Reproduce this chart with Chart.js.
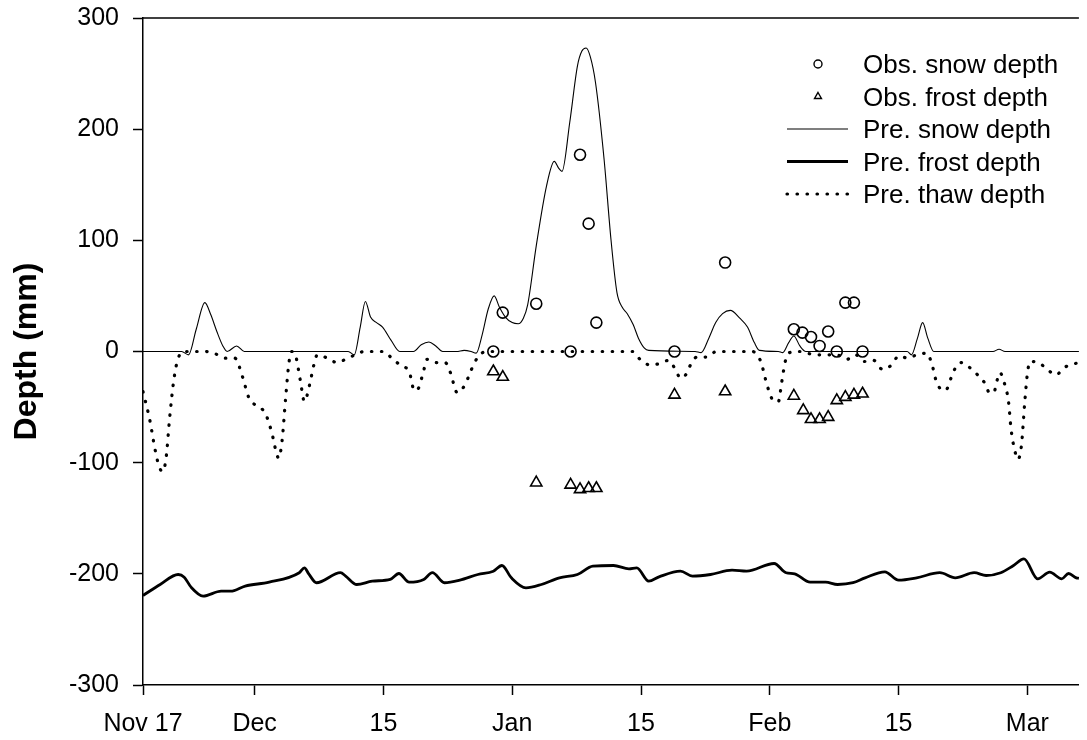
<!DOCTYPE html>
<html>
<head>
<meta charset="utf-8">
<script src="https://cdn.jsdelivr.net/npm/chart.js@4/dist/chart.umd.min.js"></script>
<style>
  html, body { margin: 0; padding: 0; background: #fff; }
</style>
</head>
<body>
<canvas id="chart" width="1087" height="740"></canvas>
<script>
// x axis is in days counted from Nov 17
const tickDays = [0, 13, 28, 43, 58, 73, 88, 103];
const tickLabels = ["Nov 17", "Dec", "15", "Jan", "15", "Feb", "15", "Mar"];

// observed snow depth (circles)
const obsSnowDays = [40.8, 41.9, 45.8, 49.8, 50.9, 51.9, 52.8, 61.9, 67.8, 75.8, 76.8, 77.8, 78.8, 79.8, 80.8, 81.8, 82.8, 83.8];
const obsSnowValues = [0, 35, 43, 0, 177, 115, 26, 0, 80, 20, 17, 13, 5, 18, 0, 44, 44, 0];

// observed frost depth (triangles)
const obsFrostDays = [40.8, 41.9, 45.8, 49.8, 50.9, 51.9, 52.8, 61.9, 67.8, 75.8, 76.9, 77.8, 78.8, 79.8, 80.8, 81.8, 82.8, 83.8];
const obsFrostValues = [-18, -23, -118, -120, -124, -123, -123, -39, -36, -40, -53, -61, -61, -59, -44, -41, -39, -38];

// predicted snow depth
const preSnowDays = [0, 4.5, 5.3, 6.2, 7.2, 7.9, 8.6, 9.3, 9.8, 10.9, 11.8, 23.9, 24.6, 25.3, 25.9, 26.5, 27.2, 27.9, 28.9, 29.9,
  31.5, 32.4, 33.3, 34.1, 34.9, 36.5, 37.4, 38.2, 38.8, 39.5, 40.2, 40.9, 41.5, 42.2, 43.0, 43.7, 44.3, 44.8, 45.8, 47.0,
  47.9, 48.4, 48.8, 49.7, 50.6, 51.1, 51.6, 52.1, 52.7, 53.7, 54.5, 55.2, 55.8, 56.4, 57.1, 57.7, 58.4, 58.9, 64.3, 65.0,
  65.9, 66.7, 67.5, 68.4, 69.5, 70.4, 71.2, 71.8, 74.0, 74.5, 75.2, 75.8, 76.5, 77.2, 89.0, 89.5, 90.2, 90.8, 91.4, 92.1,
  99.0, 99.7, 100.4, 109];
const preSnowValues = [0, 0, -3, 20, 44, 33, 18, 5, 0, 5, 0, 0, -3, 22, 45, 31, 26, 22, 10, 0,
  0, 6, 8.5, 5, 0, 0, 1, 0, -1.5, 15, 38, 50, 40, 31, 26, 25, 30, 42, 95, 149,
  171, 165, 162, 206, 257, 270, 273, 265, 242, 173, 101, 53, 40, 34, 24, 12, 3, 1, 0, -1,
  12, 26, 34, 37, 30, 22, 8, 1, 0, -1, 8, 14, 5, 0, 0, -3, 12, 26, 12, 0,
  0, 2, 0, 0];

// predicted frost depth
const preFrostDays = [0, 2, 4.1, 4.8, 5.6, 7, 9.1, 10.2, 11.9, 14.7, 18.2, 18.8, 19.3, 20.2, 23, 23.6, 24.9, 26.7, 28.8, 29.8,
  31, 32.7, 33.7, 35.1, 36.9, 39, 40.8, 41.8, 42.9, 44.6, 46.4, 48.5, 50.6, 52.4, 54.8, 56.6, 57.5, 58.9, 60.1, 62.6,
  64, 66.1, 68.6, 70.3, 73.5, 74.9, 75.9, 77.7, 79.5, 80.9, 82.7, 84.1, 86.4, 88, 90.1, 92.8, 94.6, 96.8, 98.2, 99.9,
  101.3, 102.6, 104.2, 105.6, 107, 107.8, 108.7, 109];
const preFrostValues = [-219.5, -209.6, -200.6, -203, -212, -220, -215.6, -215.6, -211, -207.5, -199, -194.6, -200, -208, -199, -202, -209.6, -206.6, -205, -199.7,
  -207.5, -205, -199, -208, -205.7, -200.6, -197.6, -192.5, -203.6, -212.6, -209.6, -203.6, -200.6, -193, -192.5, -195.5, -194.6, -206.6, -202.7, -197.6,
  -202.1, -200.6, -196.7, -197.6, -190.7, -199, -200, -207.5, -207.5, -209.6, -208, -203.6, -198.2, -205.7, -203.6, -199, -203.6, -199, -201.5, -199,
  -193, -186.5, -204.5, -198.5, -204.5, -199.7, -203.6, -204];

// predicted thaw depth
const preThawDays = [0, 0.8, 1.4, 1.9, 2.3, 2.7, 3.1, 3.6, 4.1, 4.9, 7.3, 8.4, 9.6, 10.7, 11.6, 12.3, 13.2, 14.2, 15.0, 15.5,
  15.8, 16.2, 16.6, 17.0, 17.3, 17.7, 18.3, 18.8, 19.4, 19.9, 20.3, 21.5, 22.6, 23.6, 24.7, 25.8, 28, 29.1, 30.1, 31.0,
  31.6, 32.0, 32.6, 33.1, 34.2, 35.2, 35.8, 36.6, 37.5, 38.2, 39, 40, 57, 58, 59, 60.1, 61.2, 62, 62.6, 63.2,
  63.7, 64.5, 65.6, 66.8, 71, 71.4, 72, 72.5, 73.1, 73.5, 74.0, 74.4, 74.8, 75.3, 76.5, 77.6, 78.7, 79.7, 80.8, 82,
  83, 84, 85.1, 86.1, 87.2, 88, 89.1, 90.1, 91.3, 91.9, 92.4, 93.2, 93.6, 94.1, 94.6, 95.3, 96.2, 97.2, 98.0, 98.6,
  99.1, 99.4, 99.8, 100.3, 100.8, 101.1, 101.5, 101.9, 102.3, 102.7, 103.0, 103.3, 104.3, 105.3, 106.3, 107.4, 108.5, 109];
const preThawValues = [-36, -62, -88, -104, -108, -95, -60, -25, -6, 0, 0, -2, -6, -6, -23, -41, -49, -55, -73, -90,
  -96, -80, -43, -10, 0, -2, -25, -45, -30, -12, -3, -6, -10, -7, -3, 0, 0, -7, -13, -18,
  -35, -34, -20, -7, -10, -10, -19, -37, -30, -17, -5, 0, 0, -8, -12, -11, -8, -16, -24, -21,
  -13, -5, -5, 0, 0, -2, -10, -25, -40, -45, -45, -27, -9, -1, 0, -2, -3, -3, -3, -7,
  -3, -9, -8, -16, -12, -4, -6, -3, -1.5, -12, -27, -35, -34, -24, -15, -10, -14, -21, -28, -37,
  -37, -28, -19, -28, -45, -70, -88, -97, -85, -45, -20, -9, -10, -16, -21, -14, -11, -10];

const FONT = "'Liberation Sans', Arial, Helvetica, sans-serif";
Chart.defaults.color = "#000";
Chart.defaults.font.family = FONT;

const toPoints = (days, values) => days.map((d, i) => ({ x: d, y: values[i] }));

// top frame line and a legend in the upper right of the plot
const frameLegend = {
  id: "frameLegend",
  afterDraw(chart) {
    const ctx = chart.ctx;
    const area = chart.chartArea;
    ctx.save();
    ctx.strokeStyle = "#000";
    ctx.lineWidth = 1.5;
    ctx.beginPath();
    ctx.moveTo(area.left, area.top);
    ctx.lineTo(area.right, area.top);
    ctx.stroke();

    const box = { markerX: 818, lineX0: 787, lineX1: 848, textX: 863, baseY: 73, rowGap: 32.5 };
    ctx.font = "26px " + FONT;
    ctx.textBaseline = "alphabetic";
    chart.data.datasets.forEach((ds, i) => {
      const base = box.baseY + i * box.rowGap;
      const my = base - 9;
      ctx.save();
      ctx.strokeStyle = "#000";
      if (ds.showLine === false) {
        ctx.fillStyle = "rgba(0,0,0,0)";
        ctx.lineWidth = 1.4;
        Chart.helpers.drawPoint(ctx, { pointStyle: ds.pointStyle, radius: 4, borderWidth: 1.4 }, box.markerX, my);
      } else {
        ctx.lineWidth = ds.borderWidth;
        ctx.lineCap = ds.borderCapStyle || "butt";
        ctx.setLineDash(ds.borderDash || []);
        ctx.beginPath();
        ctx.moveTo(box.lineX0, my);
        ctx.lineTo(box.lineX1, my);
        ctx.stroke();
      }
      ctx.restore();
      ctx.fillStyle = "#000";
      ctx.fillText(ds.label, box.textX, base);
    });
    ctx.restore();
  },
};

const ctx = document.getElementById("chart");

new Chart(ctx, {
  type: "line",
  data: {
    datasets: [
      {
        label: "Obs. snow depth",
        data: toPoints(obsSnowDays, obsSnowValues),
        showLine: false,
        pointStyle: "circle",
        pointRadius: 5.5,
        pointBorderWidth: 1.6,
        pointBorderColor: "#000",
        pointBackgroundColor: "rgba(0,0,0,0)",
      },
      {
        label: "Obs. frost depth",
        data: toPoints(obsFrostDays, obsFrostValues),
        showLine: false,
        pointStyle: "triangle",
        pointRadius: 6.5,
        pointBorderWidth: 1.6,
        pointBorderColor: "#000",
        pointBackgroundColor: "rgba(0,0,0,0)",
      },
      {
        label: "Pre. snow depth",
        data: toPoints(preSnowDays, preSnowValues),
        borderColor: "#000",
        borderWidth: 1.1,
        pointRadius: 0,
        cubicInterpolationMode: "monotone",
      },
      {
        label: "Pre. frost depth",
        data: toPoints(preFrostDays, preFrostValues),
        borderColor: "#000",
        borderWidth: 2.8,
        pointRadius: 0,
        cubicInterpolationMode: "monotone",
      },
      {
        label: "Pre. thaw depth",
        data: toPoints(preThawDays, preThawValues),
        borderColor: "#000",
        borderWidth: 3.2,
        borderDash: [0.5, 9.5],
        borderCapStyle: "round",
        pointRadius: 0,
        cubicInterpolationMode: "monotone",
      },
    ],
  },
  options: {
    responsive: false,
    animation: false,
    layout: { padding: { top: 18, right: 0, left: 0, bottom: 0 } },
    plugins: {
      legend: { display: false },
      tooltip: { enabled: false },
    },
    scales: {
      x: {
        type: "linear",
        min: 0,
        max: 109,
        afterBuildTicks: (scale) => {
          scale.ticks = tickDays.map((v) => ({ value: v }));
        },
        afterFit: (scale) => {
          scale.height = 55;
          scale.paddingLeft = 0;
          scale.paddingRight = 0;
        },
        ticks: {
          autoSkip: false,
          maxRotation: 0,
          padding: 14,
          font: { size: 25 },
          callback: (v, i) => tickLabels[i],
        },
        grid: { drawOnChartArea: false, tickLength: 10, tickWidth: 1.5, color: "#000" },
        border: { color: "#000", width: 1.5 },
      },
      y: {
        min: -300,
        max: 300,
        afterFit: (scale) => {
          scale.width = 143;
          scale.paddingTop = 0;
          scale.paddingBottom = 0;
        },
        ticks: { stepSize: 100, padding: 14, font: { size: 25 } },
        grid: { drawOnChartArea: false, tickLength: 10, tickWidth: 1.5, color: "#000" },
        border: { color: "#000", width: 1.5 },
        title: {
          display: true,
          text: "Depth (mm)",
          font: { size: 32, weight: "bold" },
          padding: { top: 8, bottom: 0 },
        },
      },
    },
  },
  plugins: [frameLegend],
});
</script>
</body>
</html>
